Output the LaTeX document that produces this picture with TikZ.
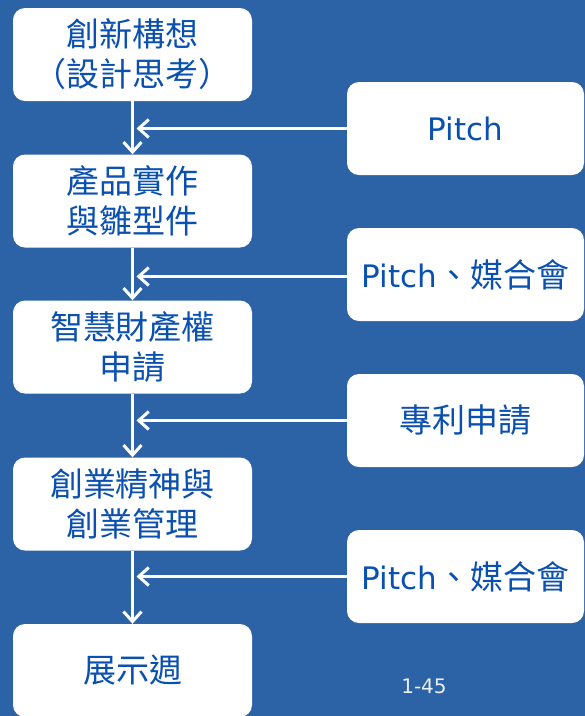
\documentclass[tikz,border=0pt]{standalone}
\usepackage{fontspec}
\setmainfont{DejaVu Sans}
\newfontfamily\cjk{Noto Sans CJK TC}
\usetikzlibrary{arrows.meta, positioning}
\definecolor{slideblue}{RGB}{44,98,166}
\definecolor{textblue}{RGB}{10,80,176}
\tikzstyle{stage} = [rectangle, rounded corners=12pt, fill=white, text=textblue,
	minimum width=239pt, minimum height=93pt, align=center,
	font=\fontsize{33}{40}\selectfont\cjk]
\tikzstyle{event} = [stage, minimum width=237pt, font=\fontsize{31}{40}\selectfont]
\tikzstyle{flow} = [-{Straight Barb[length=10pt, width=18pt]}, white, line width=3pt]

\begin{document}
\begin{tikzpicture}[x=1pt, y=-1pt]
	% set up background
	\fill[slideblue] (0,0) rectangle (585,716);
	\useasboundingbox (0,0) rectangle (585,716);

	% set up nodes
	\node (idea) [stage] at (132.5,54.5) {創新構想\\（設計思考）};
	\node (proto) [stage] at (132.5,201) {產品實作\\與雛型件};
	\node (ip) [stage] at (132.5,347) {智慧財產權\\申請};
	\node (venture) [stage] at (132.5,504) {創業精神與\\創業管理};
	\node (expo) [stage] at (132.5,670.5) {展示週};

	\node (pitch-a) [event] at (465.5,128.5) {Pitch};
	\node (pitch-b) [event] at (465.5,274.5) {Pitch{\fontsize{33}{40}\selectfont\cjk 、媒合會}};
	\node (patent) [event] at (465.5,420.5) {{\fontsize{33}{40}\selectfont\cjk 專利申請}};
	\node (pitch-c) [event] at (465.5,576.5) {Pitch{\fontsize{33}{40}\selectfont\cjk 、媒合會}};

	\node (page) [text=white!90!slideblue, font=\fontsize{20}{24}\selectfont] at (424,686) {1-45};

	% set up arrows
	\draw[flow] (idea) -- (proto);
	\draw[flow] (proto) -- (ip);
	\draw[flow] (ip) -- (venture);
	\draw[flow] (venture) -- (expo);

	\draw[flow] (pitch-a.west) -- ([xshift=4pt]pitch-a.west -| idea.south);
	\draw[flow] ([yshift=-2pt]pitch-b.west) -- ([xshift=4pt, yshift=-2pt]pitch-b.west -| idea.south);
	\draw[flow] (patent.west) -- ([xshift=4pt]patent.west -| idea.south);
	\draw[flow] (pitch-c.west) -- ([xshift=4pt]pitch-c.west -| idea.south);
\end{tikzpicture}
\end{document}
